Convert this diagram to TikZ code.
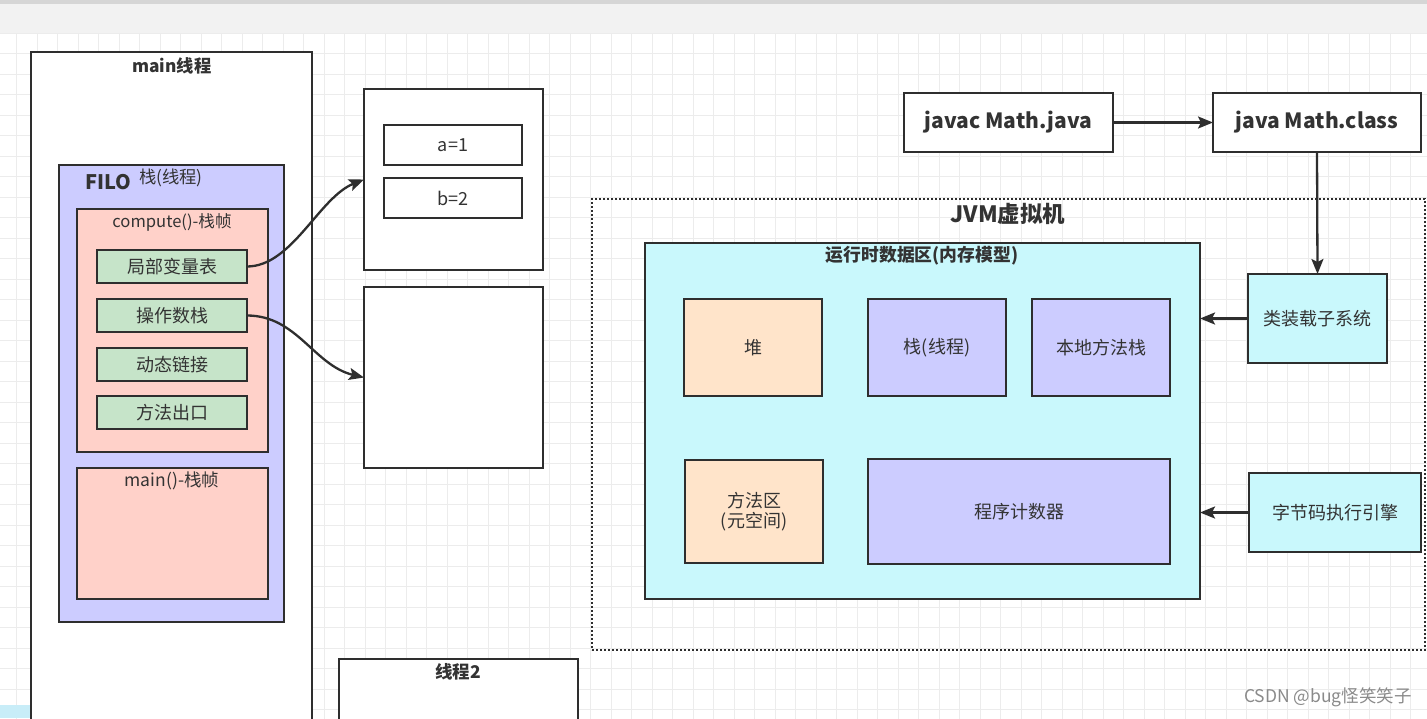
\documentclass[tikz,border=0pt]{standalone}
\usepackage{fontspec}
\setmainfont{Noto Sans CJK SC}
\usetikzlibrary{arrows.meta}
\definecolor{topgray}{HTML}{F2F2F2}
\definecolor{topdark}{HTML}{D6D6D6}
\definecolor{gridc}{HTML}{ECECEC}
\definecolor{lineC}{HTML}{2E2E2E}
\definecolor{txtC}{HTML}{333333}
\definecolor{blueF}{HTML}{CCCCFF}
\definecolor{salmonF}{HTML}{FFD1C9}
\definecolor{greenF}{HTML}{C6E4C9}
\definecolor{peachF}{HTML}{FFE4CA}
\definecolor{cyanF}{HTML}{C9F8FC}
\definecolor{artC}{HTML}{C8EDF8}
\definecolor{wmC}{HTML}{8A8A8A}
\newcommand\fsz[1]{\fontsize{#1}{#1}\selectfont}
\begin{document}
\begin{tikzpicture}[x=1pt,y=-1pt,
  box/.style={draw=lineC, line width=2pt, inner sep=0pt, outer sep=0pt, anchor=north west, text=txtC, font=\fsz{18}},
  ttl/.style={text=txtC, inner sep=0pt, font=\fsz{17.3}\bfseries},
  plain/.style={text=txtC, inner sep=0pt, font=\fsz{17}},
  arr/.style={draw=lineC, line width=2.3pt, -{Stealth[length=15pt,width=12pt,inset=3pt]}}
]
\useasboundingbox (0,0) rectangle (1427,718);
\fill[white] (0,0) rectangle (1427,718);
\fill[topgray] (0,0) rectangle (1427,33);
\fill[topdark] (0,0) rectangle (1427,4);
\begin{scope}
\clip (0,33) rectangle (1427,718);
\foreach \i in {0,...,70} \draw[gridc, line width=0.8pt] (16.7+20.5*\i,33) -- ++(0,700);
\foreach \j in {0,...,34} \draw[gridc, line width=0.8pt] (0,33+20.5*\j) -- ++(1427,0);
\end{scope}
\fill[artC] (0,705) rectangle (78,718);

% main thread
\node[box, fill=white, minimum width=281pt, minimum height=690pt] (mainT) at (31,52) {};
\node[ttl] (mainTt) at (172,66) {main线程};
\node[box, fill=blueF, minimum width=225pt, minimum height=457pt] (stackB) at (59,165) {};
\node[ttl, font=\fsz{20}\bfseries] (filo) at (108,182) {FILO};
\node[plain, font=\fsz{17.3}] (stackBt) at (171,178) {栈(线程)};
\node[box, fill=salmonF, minimum width=191pt, minimum height=243pt] (compF) at (77,209) {};
\node[plain, font=\fsz{16.6}] (compFt) at (172,222) {compute()-栈帧};
\node[box, fill=greenF, minimum width=150pt, minimum height=33pt] (g1) at (97,250) {局部变量表};
\node[box, fill=greenF, minimum width=150pt, minimum height=33pt] (g2) at (97,299) {操作数栈};
\node[box, fill=greenF, minimum width=150pt, minimum height=33pt] (g3) at (97,348) {动态链接};
\node[box, fill=greenF, minimum width=150pt, minimum height=33pt] (g4) at (97,396) {方法出口};
\node[box, fill=salmonF, minimum width=191pt, minimum height=131pt] (mainF) at (77,468) {};
\node[plain, font=\fsz{17.5}] (mainFt) at (172,481) {main()-栈帧};

% local variable / operand boxes
\node[box, fill=white, minimum width=179pt, minimum height=181pt] (lv) at (364,89) {};
\node[box, fill=white, minimum width=138pt, minimum height=40pt] (va) at (384,125) {a=1};
\node[box, fill=white, minimum width=138pt, minimum height=40pt] (vb) at (384,178) {b=2};
\node[box, fill=white, minimum width=179pt, minimum height=181pt] (os) at (364,287) {};
\draw[arr] (g1.east) .. controls +(45,0) and +(-45,18) .. (lv.west);
\draw[arr] (g2.east) .. controls +(50,0) and +(-50,-12) .. (os.west);

% thread 2
\node[box, fill=white, minimum width=239pt, minimum height=90pt] (t2) at (339,659) {};
\node[ttl, font=\fsz{17.5}\bfseries] (t2t) at (458,672) {线程2};

% compile chain
\node[box, fill=white, minimum width=209pt, minimum height=59pt, font=\fsz{21}\bfseries] (javac) at (904,93) {javac Math.java};
\node[box, fill=white, minimum width=208pt, minimum height=59pt, font=\fsz{21}\bfseries] (javaC) at (1213,93) {java Math.class};
\draw[arr] (javac.east) -- (javaC.west);

% JVM
\node[box, draw=lineC, line width=2pt, dash pattern=on 2pt off 2pt, minimum width=833pt, minimum height=451pt] (jvm) at (592,199) {};
\node[ttl, font=\fsz{22.5}\bfseries] (jvmt) at (1008,214) {JVM虚拟机};
\node[box, fill=cyanF, minimum width=555pt, minimum height=356pt] (rt) at (645,243) {};
\node[ttl, font=\fsz{17.8}\bfseries] (rtt) at (922,256) {运行时数据区(内存模型)};
\node[box, fill=peachF, minimum width=138pt, minimum height=97pt] (heap) at (684,299) {堆};
\node[box, fill=blueF, minimum width=138pt, minimum height=97pt] (stk) at (868,299) {栈(线程)};
\node[box, fill=blueF, minimum width=138pt, minimum height=97pt] (nstk) at (1032,299) {本地方法栈};
\node[box, fill=peachF, minimum width=138pt, minimum height=103pt, align=center] (meth) at (685,460) {方法区\\[2pt](元空间)};
\node[box, fill=blueF, minimum width=302pt, minimum height=105pt] (pc) at (868,459) {程序计数器};
\node[box, fill=cyanF, minimum width=139pt, minimum height=89pt] (cls) at (1248,274) {类装载子系统};
\node[box, fill=cyanF, minimum width=172pt, minimum height=79pt] (exe) at (1249,473) {字节码执行引擎};
\draw[arr] (javaC.south) -- (cls.north);
\draw[arr] (cls.west) -- (cls.west -| rt.east);
\draw[arr] (exe.west) -- (exe.west -| rt.east);

% watermark
\node[text=wmC, inner sep=0pt, anchor=east, font=\fsz{17.5}] (wm) at (1412,697) {CSDN @bug怪笑笑子};
\end{tikzpicture}
\end{document}
